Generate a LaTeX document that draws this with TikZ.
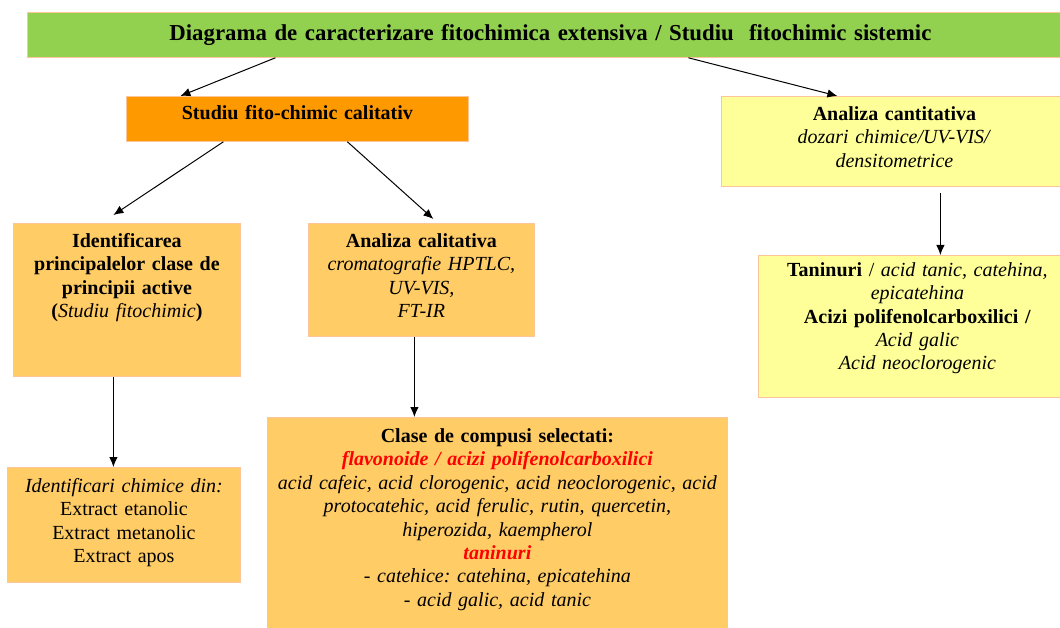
\documentclass[tikz,border=0pt]{standalone}
\usepackage{fontspec}
\setmainfont{Liberation Serif}
\usetikzlibrary{arrows.meta}
\frenchspacing

\definecolor{titlegreen}{HTML}{92D050}
\definecolor{studiuorange}{HTML}{FF9900}
\definecolor{boxorange}{HTML}{FFCC66}
\definecolor{boxyellow}{HTML}{FFFF99}
\definecolor{boxedge}{HTML}{FBC79A}
\definecolor{redtext}{HTML}{FF0000}

\begin{document}
\begin{tikzpicture}[x=1pt,y=-1pt]
				\tikzstyle{box}=[draw=boxedge,line width=0.8pt,inner xsep=3pt,inner ysep=0pt,align=center,anchor=north west,font=\fontsize{20}{23.4}\selectfont]
				\tikzstyle{arr}=[-{Latex[length=10pt,width=8.5pt]},line width=1pt]

				\clip (0,0) rectangle (1060,628);
				\fill[white] (0,0) rectangle (1060,628);

				\node (title) [box, fill=titlegreen, text width=1040pt, text height=28pt, text depth=17pt, font=\fontsize{22.8}{24}\selectfont\bfseries] at (27,12) {Diagrama de caracterizare fitochimica extensiva / Studiu\ \ fitochimic sistemic};
				\node (studiu) [box, fill=studiuorange, text width=336pt, text height=23pt, text depth=22pt] at (126,96) {\textbf{Studiu fito-chimic calitativ}};
				\node (cantit) [box, fill=boxyellow, text width=340pt, text height=24pt, text depth=66pt] at (721,96) {\textbf{Analiza cantitativa}\\ \textit{dozari chimice/UV-VIS/}\\ \textit{densitometrice}};
				\node (identif) [box, fill=boxorange, text width=221pt, text height=24pt, text depth=129pt] at (13,223) {\textbf{Identificarea}\\ \textbf{principalelor clase de}\\ \textbf{principii active}\\ \textbf{(}\textit{Studiu fitochimic}\textbf{)}};
				\node (calit) [box, fill=boxorange, text width=220pt, text height=24pt, text depth=89pt] at (308,223) {\textbf{Analiza calitativa}\\ \textit{cromatografie HPTLC,}\\ \textit{UV-VIS,}\\ \textit{FT-IR}};
				\node (tanin) [box, fill=boxyellow, text width=312pt, text height=21pt, text depth=121pt] at (758,255) {\textbf{Taninuri} / \textit{acid tanic, catehina,}\\ \textit{epicatehina}\\ \textbf{Acizi polifenolcarboxilici /}\\ \textit{Acid galic}\\ \textit{Acid neoclorogenic}};
				\node (identchim) [box, fill=boxorange, text width=227pt, text height=25pt, text depth=90pt] at (7,467) {\textit{Identificari chimice din:}\\ Extract etanolic\\ Extract metanolic\\ Extract apos};
				\node (clase) [box, fill=boxorange, text width=454pt, text height=25pt, text depth=215pt] at (267,417) {\textbf{Clase de compusi selectati:}\\ \textcolor{redtext}{\bfseries\itshape flavonoide / acizi polifenolcarboxilici}\\ \textit{acid cafeic, acid clorogenic, acid neoclorogenic, acid}\\ \textit{protocatehic, acid ferulic, rutin, quercetin,}\\ \textit{hiperozida, kaempherol}\\ \textcolor{redtext}{\bfseries\itshape taninuri}\\ \textit{- catehice: catehina, epicatehina}\\ \textit{- acid galic, acid tanic}};

				\draw[arr] ([xshift=-275pt]title.south) -- ([xshift=-117pt]studiu.north);
				\draw[arr] ([xshift=138pt]title.south) -- ([xshift=-57pt]cantit.north);
				\draw[arr] ([xshift=-74pt]studiu.south) -- ([xshift=-13.5pt,yshift=8pt]identif.north);
				\draw[arr] ([xshift=50pt]studiu.south) -- ([xshift=12pt,yshift=4pt]calit.north);
				\draw[arr] ([xshift=-13.5pt]identif.south) -- ([xshift=-13.5pt]identif.south |- identchim.north);
				\draw[arr] ([xshift=-7pt]calit.south) -- ([xshift=-7pt]calit.south |- clase.north);
				\draw[arr] ([xshift=46pt,yshift=-6pt]cantit.south) -- ([xshift=46pt]cantit.south |- tanin.north);
			\end{tikzpicture}
\end{document}
